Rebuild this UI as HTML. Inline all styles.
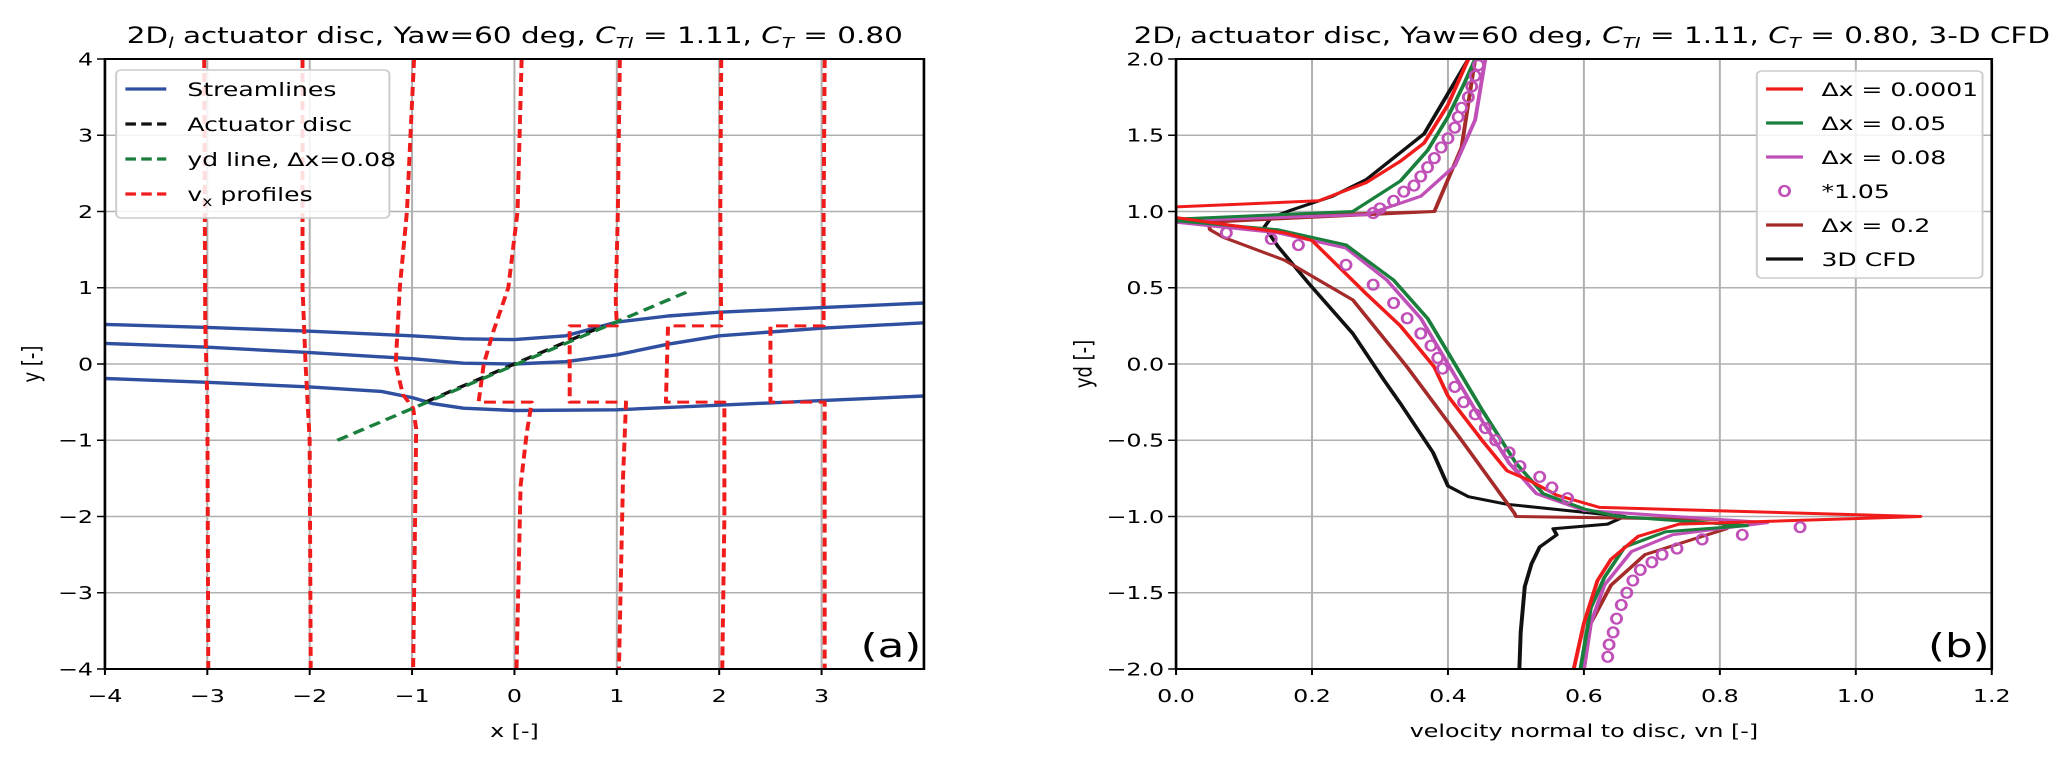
<!DOCTYPE html>
<html><head><meta charset="utf-8"><style>
html,body{margin:0;padding:0;background:#fff;}
svg{display:block;font-family:"DejaVu Sans","Liberation Sans",sans-serif;}
</style></head><body>
<svg id="fig" width="2067" height="762" viewBox="0 0 1566 762" preserveAspectRatio="none" xmlns="http://www.w3.org/2000/svg">
<rect width="1566" height="762" fill="#fff"/>
<g id="pa"></g>
<g id="pb"></g>
<text x="390" y="43" font-size="22.3" text-anchor="middle">2D<tspan font-size="15" font-style="italic" dy="5">l</tspan><tspan dy="-5"> actuator disc, Yaw=60 deg, </tspan><tspan font-style="italic">C</tspan><tspan font-size="15" font-style="italic" dy="5">TI</tspan><tspan dy="-5"> = 1.11, </tspan><tspan font-style="italic">C</tspan><tspan font-size="15" font-style="italic" dy="5">T</tspan><tspan dy="-5"> = 0.80</tspan></text>
<text x="1206" y="43" font-size="22.3" text-anchor="middle">2D<tspan font-size="15" font-style="italic" dy="5">l</tspan><tspan dy="-5"> actuator disc, Yaw=60 deg, </tspan><tspan font-style="italic">C</tspan><tspan font-size="15" font-style="italic" dy="5">TI</tspan><tspan dy="-5"> = 1.11, </tspan><tspan font-style="italic">C</tspan><tspan font-size="15" font-style="italic" dy="5">T</tspan><tspan dy="-5"> = 0.80, 3-D CFD</tspan></text>
</svg>
<script>
// ---------- Panel (a) data ----------
const aXTicks = [-4,-3,-2,-1,0,1,2,3];
const aYTicks = [-4,-3,-2,-1,0,1,2,3,4];
const stream1X = [-4,-3,-2,-1,-0.5,0,0.5,1,1.5,2,3,4];
const stream1Y = [0.52,0.48,0.43,0.37,0.33,0.32,0.37,0.55,0.63,0.68,0.74,0.8];
const stream2X = [-4,-3,-2,-1,-0.5,0,0.5,1,1.5,2,3,4];
const stream2Y = [0.27,0.22,0.15,0.07,0.01,0.0,0.03,0.12,0.26,0.37,0.47,0.54];
const stream3X = [-4,-3,-2,-1.3,-1.0,-0.8,-0.5,0,1,2,3,4];
const stream3Y = [-0.19,-0.24,-0.3,-0.36,-0.44,-0.52,-0.58,-0.61,-0.6,-0.54,-0.48,-0.42];
const discX = [-0.87,0.87];
const discY = [-0.5,0.5];
const ydLineX = [-1.73,1.73];
const ydLineY = [-1.0,0.97];
const profM3X = [-3.03,-3.02,-3.0,-2.99];
const profM3Y = [4,0.5,-0.5,-4];
const profM2X = [-2.07,-2.07,-2.04,-2.0,-1.99];
const profM2Y = [4,1,0,-1,-4];
const profM1X = [-0.98,-1.05,-1.12,-1.16,-1.09,-0.99,-0.96,-0.97,-0.99];
const profM1Y = [4,2,1,0,-0.4,-0.58,-0.85,-2,-4];
const prof0X = [0.07,0.03,-0.06,-0.2,-0.3,-0.35,0.17,0.12,0.06,0.02];
const prof0Y = [4,2,1,0.45,0,-0.5,-0.5,-0.9,-1.6,-4];
const prof1X = [1.03,1.01,0.99,1.0,0.54,0.54,1.09,1.06,1.02];
const prof1Y = [4,2,0.84,0.5,0.5,-0.5,-0.5,-1.5,-4];
const prof2X = [2.02,2.01,2.02,1.5,1.48,2.05,2.05,2.03];
const prof2Y = [4,2,0.5,0.5,-0.5,-0.5,-2,-4];
const prof3X = [3.03,3.02,3.02,2.5,2.5,3.03,3.03,3.03];
const prof3Y = [4,2,0.5,0.5,-0.5,-0.5,-2,-4];

// ---------- Panel (b) data ----------
const bXTicks = [0.0,0.2,0.4,0.6,0.8,1.0,1.2];
const bYTicks = [-2.0,-1.5,-1.0,-0.5,0.0,0.5,1.0,1.5,2.0];
const redUpX = [0.0,0.21,0.28,0.33,0.365,0.4,0.43];
const redUpY = [1.03,1.07,1.19,1.33,1.45,1.7,2.0];
const redLoX = [0.0,0.16,0.2,0.28,0.33,0.38,0.40,0.45,0.487,0.518,0.56,0.623,1.095,0.74,0.68,0.64,0.62,0.6,0.585];
const redLoY = [0.96,0.86,0.81,0.46,0.25,-0.02,-0.21,-0.5,-0.70,-0.76,-0.86,-0.94,-1.0,-1.05,-1.13,-1.28,-1.42,-1.7,-2.0];
const greenUpX = [0.0,0.26,0.33,0.37,0.40,0.425,0.44];
const greenUpY = [0.95,1.0,1.2,1.4,1.62,1.85,2.0];
const greenLoX = [0.0,0.15,0.25,0.32,0.37,0.41,0.45,0.5,0.54,0.6,0.65,0.84,0.72,0.66,0.63,0.61,0.595];
const greenLoY = [0.94,0.88,0.78,0.55,0.3,0.0,-0.3,-0.65,-0.85,-0.95,-1.0,-1.06,-1.1,-1.2,-1.4,-1.6,-2.0];
const magUpX = [0.0,0.28,0.36,0.41,0.44,0.455];
const magUpY = [0.94,0.98,1.1,1.3,1.6,2.0];
const magLoX = [0.0,0.15,0.25,0.31,0.36,0.40,0.44,0.49,0.53,0.6,0.87,0.73,0.67,0.63,0.61,0.6];
const magLoY = [0.93,0.86,0.76,0.55,0.3,0.0,-0.3,-0.65,-0.85,-0.96,-1.04,-1.12,-1.23,-1.45,-1.7,-2.0];
const circX = [0.29,0.30,0.32,0.335,0.35,0.36,0.37,0.38,0.39,0.40,0.41,0.415,0.42,0.43,0.435,0.44,0.445,
  0.074,0.14,0.18,0.25,0.29,0.32,0.34,0.36,0.375,0.385,0.392,0.41,0.423,0.44,0.455,0.47,0.49,0.506,0.535,0.553,0.576,
  0.918,0.833,0.774,0.737,0.715,0.70,0.683,0.672,0.663,0.655,0.648,0.643,0.637,0.635];
const circY = [0.99,1.02,1.07,1.13,1.17,1.23,1.29,1.35,1.42,1.48,1.55,1.62,1.68,1.75,1.82,1.89,1.96,
  0.86,0.82,0.78,0.65,0.52,0.4,0.3,0.2,0.12,0.04,-0.03,-0.15,-0.25,-0.33,-0.42,-0.5,-0.58,-0.67,-0.74,-0.81,-0.88,
  -1.07,-1.12,-1.15,-1.21,-1.25,-1.3,-1.35,-1.42,-1.5,-1.58,-1.67,-1.76,-1.84,-1.92];
const brownX = [0.0,0.38,0.047,0.05,0.07,0.16,0.26,0.34,0.42,0.498,0.50,0.80,0.81,0.76,0.69,0.64,0.61,0.6];
const brownY = [0.95,1.0,0.93,0.88,0.83,0.68,0.42,-0.02,-0.5,-0.98,-1.0,-1.02,-1.08,-1.15,-1.25,-1.45,-1.7,-2.0];
const brownTopX = [0.38,0.42,0.44];
const brownTopY = [1.0,1.42,2.0];
const cfdX = [0.43,0.365,0.28,0.23,0.17,0.14,0.13,0.15,0.195,0.26,0.305,0.33,0.378,0.40,0.43,0.487,0.66,0.635,0.555,0.56,0.535,0.523,0.513,0.507,0.505];
const cfdY = [2.0,1.51,1.21,1.1,1.01,0.96,0.9,0.77,0.53,0.2,-0.1,-0.26,-0.58,-0.8,-0.87,-0.92,-1.0,-1.05,-1.08,-1.12,-1.2,-1.31,-1.46,-1.76,-2.0];

const NS = "http://www.w3.org/2000/svg";
function mk(tag, attrs, parent){const e=document.createElementNS(NS,tag);for(const k in attrs)e.setAttribute(k,attrs[k]);parent.appendChild(e);return e;}

const A = {x0:79.5,x1:700,y0:59,y1:669,xmin:-4,xmax:4,ymin:-4,ymax:4};
const B = {x0:891,x1:1509,y0:59,y1:669,xmin:0,xmax:1.2,ymin:-2,ymax:2};
function sx(ax,v){return ax.x0+(v-ax.xmin)/(ax.xmax-ax.xmin)*(ax.x1-ax.x0);}
function sy(ax,v){return ax.y1-(v-ax.ymin)/(ax.ymax-ax.ymin)*(ax.y1-ax.y0);}

function axes(ax,g,xt,yt,fmtX,fmtY,xlabel,ylabel,ylabX){
  for(const t of xt){
    const gl=mk('line',{x1:sx(ax,t),x2:sx(ax,t),y1:ax.y0,y2:ax.y1,stroke:'#b0b0b0','stroke-width':1.5},g);
    
    
    const tk=mk('line',{x1:sx(ax,t),x2:sx(ax,t),y1:ax.y1,y2:ax.y1+6,stroke:'#000','stroke-width':1.5},g);
    
    
    const tl=mk('text',{x:sx(ax,t),y:ax.y1+33,'font-size':18,'text-anchor':'middle'},g);
    tl.textContent=fmtX(t);
    
    
  }
  for(const t of yt){
    const gl=mk('line',{x1:ax.x0,x2:ax.x1,y1:sy(ax,t),y2:sy(ax,t),stroke:'#b0b0b0','stroke-width':1.5},g);
    
    
    const tk=mk('line',{x1:ax.x0-6,x2:ax.x0,y1:sy(ax,t),y2:sy(ax,t),stroke:'#000','stroke-width':1.5},g);
    
    
    const tl=mk('text',{x:ax.x0-9,y:sy(ax,t)+6.5,'font-size':18,'text-anchor':'end'},g);
    tl.textContent=fmtY(t);
    
    
  }
  const xl=mk('text',{x:(ax.x0+ax.x1)/2,y:737,'font-size':18,'text-anchor':'middle'},g);
  xl.textContent=xlabel;
  
  
  const yl=mk('text',{x:ylabX,y:(ax.y0+ax.y1)/2,'font-size':18,'text-anchor':'middle',transform:`rotate(-90 ${ylabX} ${(ax.y0+ax.y1)/2})`},g);
  yl.textContent=ylabel;
  
  
}
function minus(s){return s.replace('-','\u2212');}
function line(ax,g,xs,ys,color,w,dash,name){
  const d=xs.map((x,i)=>(i?'L':'M')+sx(ax,x).toFixed(1)+' '+sy(ax,ys[i]).toFixed(1)).join(' ');
  const p=mk('path',{d:d,fill:'none',stroke:color,'stroke-width':w,'stroke-linejoin':'round'},g);
  if(dash)p.setAttribute('stroke-dasharray',dash);
  
  
  return p;
}

const ga=document.getElementById('pa');
const clipA=mk('clipPath',{id:'ca'},ga); mk('rect',{x:A.x0,y:A.y0,width:A.x1-A.x0,height:A.y1-A.y0},clipA);
axes(A,ga,aXTicks,aYTicks,t=>minus(String(t)),t=>minus(String(t)),'x [-]','y [-]',30);
const da=mk('g',{'clip-path':'url(#ca)'},ga);
const BLUE='#2f4fa0', RED='#f01c1c';
line(A,da,stream1X,stream1Y,BLUE,3.4,null,'streamline-upper');
line(A,da,stream2X,stream2Y,BLUE,3.4,null,'streamline-middle');
line(A,da,stream3X,stream3Y,BLUE,3.4,null,'streamline-lower');
const profs=[[profM3X,profM3Y,'vx-profile-x-3'],[profM2X,profM2Y,'vx-profile-x-2'],[profM1X,profM1Y,'vx-profile-x-1'],[prof0X,prof0Y,'vx-profile-x0'],[prof1X,prof1Y,'vx-profile-x1'],[prof2X,prof2Y,'vx-profile-x2'],[prof3X,prof3Y,'vx-profile-x3']];
for(const p of profs) line(A,da,p[0],p[1],RED,3,'9,5',p[2]);
line(A,da,discX,discY,'#111',3.2,'9,5','actuator-disc-line');
line(A,da,ydLineX,ydLineY,'#1a7f3c',3.2,'9,5','yd-line');
mk('rect',{x:A.x0,y:A.y0,width:A.x1-A.x0,height:A.y1-A.y0,fill:'none',stroke:'#000','stroke-width':2},ga);
const la=mk('g',{},ga);


mk('rect',{x:88,y:70,width:207,height:148,rx:4,fill:'#fff','fill-opacity':0.85,stroke:'#ccc','stroke-width':1.5},la);
const legA=[['Streamlines',BLUE,null],['Actuator disc','#111','9,5'],['yd line, \u0394x=0.08','#1a7f3c','9,5'],['v',RED,'9,5']];
legA.forEach((e,i)=>{
  const y=89+i*35;
  const l=mk('line',{x1:95,x2:126,y1:y,y2:y,stroke:e[1],'stroke-width':3.2},la);
  if(e[2])l.setAttribute('stroke-dasharray','8,4');
  
  
  const t=mk('text',{x:142,y:y+7,'font-size':19},la);
  
  
  if(i===3){t.innerHTML='v<tspan font-size="13" dy="5">x</tspan><tspan dy="-5"> profiles</tspan>';}
  else t.textContent=e[0];
});
const labA=mk('text',{x:675,y:657,'font-size':33,'text-anchor':'middle'},ga);
labA.textContent='(a)';



const gb=document.getElementById('pb');
const clipB=mk('clipPath',{id:'cb'},gb); mk('rect',{x:B.x0,y:B.y0,width:B.x1-B.x0,height:B.y1-B.y0},clipB);
axes(B,gb,bXTicks,bYTicks,t=>t.toFixed(1),t=>minus(t.toFixed(1)),'velocity normal to disc, vn [-]','yd [-]',827);
const db=mk('g',{'clip-path':'url(#cb)'},gb);
const GREEN='#1a7f3c', MAG='#c050b8', BROWN='#a52a2a';
line(B,db,cfdX,cfdY,'#111',3,null,'series-3d-cfd');
line(B,db,brownX,brownY,BROWN,3,null,'series-dx-0.2');
line(B,db,brownTopX,brownTopY,BROWN,3,null,'series-dx-0.2-upper');
line(B,db,magUpX,magUpY,MAG,3,null,'series-dx-0.08-upper');
line(B,db,magLoX,magLoY,MAG,3,null,'series-dx-0.08-lower');
line(B,db,greenUpX,greenUpY,GREEN,3,null,'series-dx-0.05-upper');
line(B,db,greenLoX,greenLoY,GREEN,3,null,'series-dx-0.05-lower');
line(B,db,redUpX,redUpY,RED,3,null,'series-dx-0.0001-upper');
line(B,db,redLoX,redLoY,RED,3,null,'series-dx-0.0001-lower');
circX.forEach((x,i)=>{
  const c=mk('ellipse',{cx:sx(B,x),cy:sy(B,circY[i]),rx:3.8,ry:5,fill:'none',stroke:MAG,'stroke-width':2.2},db);
  
  
});
mk('rect',{x:B.x0,y:B.y0,width:B.x1-B.x0,height:B.y1-B.y0,fill:'none',stroke:'#000','stroke-width':2},gb);
const lb=mk('g',{},gb);


mk('rect',{x:1331,y:71,width:171,height:207,rx:4,fill:'#fff','fill-opacity':0.85,stroke:'#ccc','stroke-width':1.5},lb);
const legB=[['\u0394x = 0.0001',RED],['\u0394x = 0.05',GREEN],['\u0394x = 0.08',MAG],['*1.05',MAG],['\u0394x = 0.2',BROWN],['3D CFD','#111']];
legB.forEach((e,i)=>{
  const y=89+i*34;
  if(i===3){
    const c=mk('ellipse',{cx:1352,cy:y,rx:3.8,ry:5,fill:'none',stroke:e[1],'stroke-width':2.2},lb);
    
    
  } else {
    const l=mk('line',{x1:1338,x2:1366,y1:y,y2:y,stroke:e[1],'stroke-width':3.2},lb);
    
    
  }
  const t=mk('text',{x:1380,y:y+7,'font-size':19},lb);
  t.textContent=e[0];
  
  
});
const labB=mk('text',{x:1484,y:657,'font-size':33,'text-anchor':'middle'},gb);
labB.textContent='(b)';


</script>
</body></html>
